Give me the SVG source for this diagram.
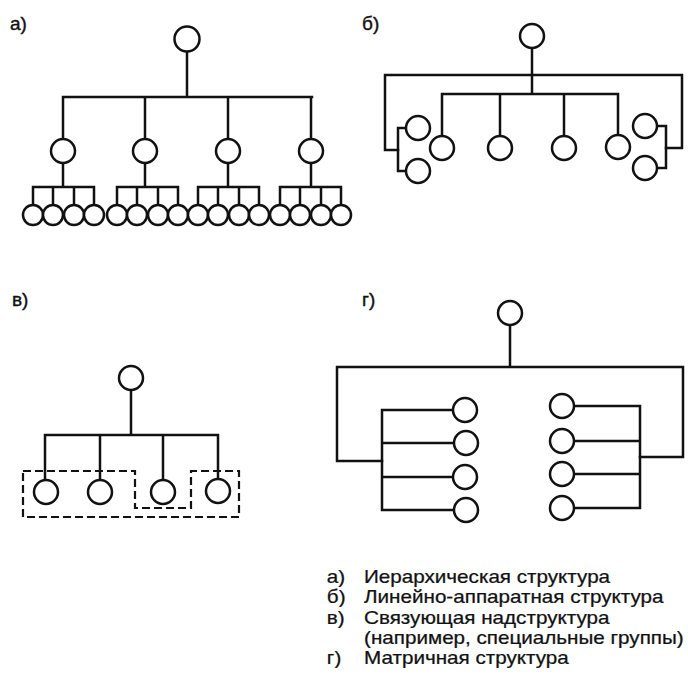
<svg xmlns="http://www.w3.org/2000/svg" width="688" height="681" viewBox="0 0 688 681">
<style>
.n{fill:#fff;stroke:#111;stroke-width:2.5}
.c{fill:none;stroke:#111;stroke-width:2.5;stroke-linejoin:miter;stroke-linecap:square}
.d{fill:none;stroke:#111;stroke-width:2.2;stroke-dasharray:8 4}
.lb{font-family:"Liberation Sans",Arial,sans-serif;font-size:19px;fill:#111;stroke:#111;stroke-width:0.4}
.lg{font-family:"Liberation Sans",Arial,sans-serif;font-size:17.5px;fill:#111;stroke:#111;stroke-width:0.25}
</style>
<rect width="688" height="681" fill="#fff"/>
<g id="connectors">
<path class="c" d="M187,51 V97 M63,97 H312 M63,97 V139 M145,97 V139 M228,97 V139 M311,97 V139"/>
<path class="c" d="M63,163 V187 M33,187 H94 M33,187 V205 M53,187 V205 M74,187 V205 M94,187 V205"/>
<path class="c" d="M145,163 V187 M117,187 H178 M117,187 V205 M137,187 V205 M158,187 V205 M178,187 V205"/>
<path class="c" d="M228,163 V187 M198,187 H259 M198,187 V205 M218,187 V205 M239,187 V205 M259,187 V205"/>
<path class="c" d="M311,163 V187 M280,187 H341 M280,187 V205 M300,187 V205 M321,187 V205 M341,187 V205"/>
<path class="c" d="M532,48 V94 M442,94 H618 M442,94 V136 M500,94 V136 M564,94 V136 M618,94 V135"/>
<path class="c" d="M398,150 H385 V75 H682 V148 H666"/>
<path class="c" d="M406,128 H398 V171 H406"/>
<path class="c" d="M657,126 H666 V168 H657"/>
<path class="c" d="M131,390 V435 M45,435 H218 M45,435 V480 M100,435 V480 M163,435 V480 M218,435 V479"/>
<path class="d" d="M23,471 H135 V508 H191 V471 H239 V517 H23 Z"/>
<path class="c" d="M510,325 V367 M382,461 H337 V367 H683 V457 H640"/>
<path class="c" d="M453,410 H382 V510 H454 M382,443 H454 M382,477 H453"/>
<path class="c" d="M574,406 H640 V508 H574 M574,441 H640 M574,474 H640"/>
</g>
<g id="panel-a">
<text class="lb" x="10" y="30">а)</text>
<circle id="a-root" class="n" cx="187" cy="39" r="12.5"/>
<circle class="n" cx="63" cy="151" r="12"/>
<circle class="n" cx="145" cy="151" r="12"/>
<circle class="n" cx="228" cy="151" r="12"/>
<circle class="n" cx="311" cy="151" r="12"/>
<circle class="n" cx="33" cy="215" r="10"/>
<circle class="n" cx="53" cy="215" r="10"/>
<circle class="n" cx="74" cy="215" r="10"/>
<circle class="n" cx="94" cy="215" r="10"/>
<circle class="n" cx="117" cy="215" r="10"/>
<circle class="n" cx="137" cy="215" r="10"/>
<circle class="n" cx="158" cy="215" r="10"/>
<circle class="n" cx="178" cy="215" r="10"/>
<circle class="n" cx="198" cy="215" r="10"/>
<circle class="n" cx="218" cy="215" r="10"/>
<circle class="n" cx="239" cy="215" r="10"/>
<circle class="n" cx="259" cy="215" r="10"/>
<circle class="n" cx="280" cy="215" r="10"/>
<circle class="n" cx="300" cy="215" r="10"/>
<circle class="n" cx="321" cy="215" r="10"/>
<circle class="n" cx="341" cy="215" r="10"/>
</g>
<g id="panel-b">
<text class="lb" x="362" y="30">б)</text>
<circle class="n" cx="532" cy="36" r="12"/>
<circle class="n" cx="442" cy="148" r="12"/>
<circle class="n" cx="500" cy="148" r="12"/>
<circle class="n" cx="564" cy="148" r="12"/>
<circle class="n" cx="618" cy="147" r="12"/>
<circle class="n" cx="418" cy="128" r="12"/>
<circle class="n" cx="418" cy="171" r="12"/>
<circle class="n" cx="645" cy="126" r="12"/>
<circle class="n" cx="645" cy="168" r="12"/>
</g>
<g id="panel-v">
<text class="lb" x="12" y="306">в)</text>
<circle class="n" cx="131" cy="378" r="12"/>
<circle class="n" cx="46" cy="492" r="12"/>
<circle class="n" cx="100" cy="492" r="12"/>
<circle class="n" cx="163" cy="492" r="12"/>
<circle class="n" cx="218" cy="491" r="12"/>
</g>
<g id="panel-g">
<text class="lb" x="362" y="306">г)</text>
<circle class="n" cx="510" cy="313" r="12"/>
<circle class="n" cx="465" cy="410" r="12"/>
<circle class="n" cx="466" cy="443" r="12"/>
<circle class="n" cx="465" cy="477" r="12"/>
<circle class="n" cx="466" cy="510" r="12"/>
<circle class="n" cx="562" cy="406" r="12"/>
<circle class="n" cx="562" cy="441" r="12"/>
<circle class="n" cx="562" cy="474" r="12"/>
<circle class="n" cx="562" cy="508" r="12"/>
</g>
<g id="legend" transform="scale(1.18,1)">
<text class="lg" x="277" y="583">а)</text>
<text class="lg" x="308.5" y="583">Иерархическая структура</text>
<text class="lg" x="277" y="603.3">б)</text>
<text class="lg" x="308.5" y="603.3">Линейно-аппаратная структура</text>
<text class="lg" x="277" y="623.6">в)</text>
<text class="lg" x="308.5" y="623.6">Связующая надструктура</text>
<text class="lg" x="308.5" y="643.9">(например, специальные группы)</text>
<text class="lg" x="277" y="664.2">г)</text>
<text class="lg" x="308.5" y="664.2">Матричная структура</text>
</g>
</svg>
